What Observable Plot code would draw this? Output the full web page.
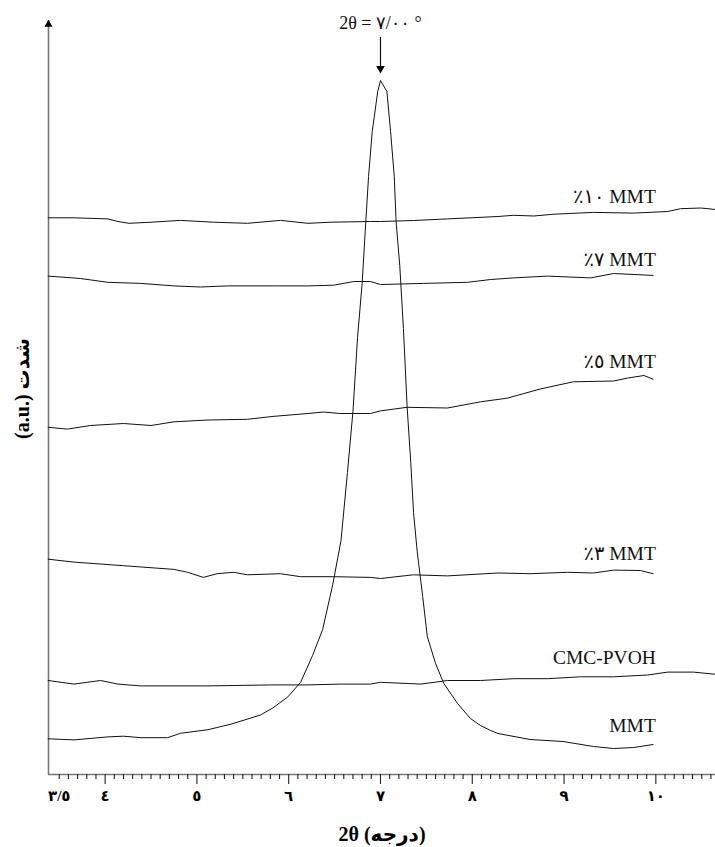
<!DOCTYPE html>
<html><head><meta charset="utf-8">
<script src="https://cdn.jsdelivr.net/npm/d3@7"></script>
<script src="https://cdn.jsdelivr.net/npm/@observablehq/plot@0.6"></script>
<style>body{margin:0;background:#fff}</style>
</head><body><div id="chart"></div>
<script>
// Series names (as shown on the chart)
const seriesNames = ["٪١٠ MMT", "٪٧ MMT", "٪٥ MMT", "٪٣ MMT", "CMC-PVOH", "MMT"];

// 2θ (degrees) and intensity (a.u., stacked offsets)
const mmt10X = [3.38,3.66,4.03,4.14,4.26,4.50,4.82,5.18,5.55,5.91,6.21,6.46,6.89,7.00,7.36,7.73,8.28,8.45,8.67,8.89,9.32,9.76,10.13,10.27,10.49,10.65];
const mmt10Y = [556.7,556.7,555.6,553,551.2,552.3,554.1,552.3,551.2,554.1,551.2,552.3,553,553,554,555.6,558,559.2,558.5,560.3,562.1,561.4,563,565.8,566.5,565];

const mmt7X = [3.38,3.73,4.03,4.39,4.75,5.04,5.33,5.83,6.21,6.49,6.71,6.89,7.00,7.47,7.95,8.20,8.45,8.82,9.29,9.54,9.97];
const mmt7Y = [498.4,496,492.2,491.1,488.6,487.5,488.6,488.6,488.6,489.3,493,493,490,491.1,492.2,495,496.6,498.4,496.6,501,499.1];

const mmt5X = [3.38,3.59,3.84,4.20,4.50,4.75,5.12,5.55,5.83,6.21,6.38,6.56,6.89,7.00,7.29,7.73,8.09,8.38,8.74,9.10,9.54,9.69,9.87,9.97];
const mmt5Y = [347.2,345.4,349,351,349,352.7,354.5,355.2,358.1,361,362.5,361,361,363.6,367.2,366.5,372.7,376.3,385.5,392.7,393.5,396.4,399,395.3];

const mmt3X = [3.38,3.66,4.20,4.75,4.90,5.07,5.22,5.40,5.55,5.91,6.13,6.49,6.89,7.00,7.36,7.73,8.28,8.63,9.04,9.32,9.54,9.83,9.97];
const mmt3Y = [215.3,212.4,208.8,205.1,202.2,197.1,200.8,202.2,199.7,200.8,197.8,197.8,197.1,196,199.7,198.6,201.5,200.8,202.2,201.5,204.4,204,200.8];

const cmcX = [3.38,3.66,3.95,4.14,4.39,5.12,5.83,6.21,6.56,6.89,7.00,7.44,7.73,8.09,8.45,8.82,9.18,9.54,9.91,10.13,10.41,10.65];
const cmcY = [94,90.4,94,90.4,88.6,88.6,89.6,89.6,90.4,90.4,92.2,90.4,94,94,95.8,95.8,97.7,97.7,99.5,102.4,102.4,100.2];

const mmtX = [3.38,3.66,4.03,4.20,4.39,4.68,4.82,5.12,5.37,5.69,5.83,5.99,6.13,6.26,6.37,6.48,6.57,6.64,6.70,6.75,6.80,6.84,6.87,6.91,6.97,7.00,7.07,7.11,7.15,7.17,7.21,7.25,7.29,7.33,7.36,7.40,7.46,7.51,7.60,7.69,7.84,7.98,8.09,8.20,8.28,8.63,8.99,9.32,9.54,9.76,9.97];
const mmtY = [35.7,34.6,37.6,38.3,36.8,36.8,41.2,44.8,50.3,59.4,66.7,77.6,92.2,119,145,190,234,302,363,437,491,553,598,643,683,694,683,643,598,553,509,446,368,312,262,223,178,138,111,91,71,56,49,44,41,35,33,28,26,27,30];

// Series label positions (x in degrees, y in a.u.)
const labelX = [10, 10, 10, 10, 10, 10];
const labelY = [572, 509, 407, 215, 111, 43];

// Axis ticks
const xDomain = [3.383, 10.65];
const yDomain = [0, 754];
const majorTicks = [4, 5, 6, 7, 8, 9, 10];
const labelTicks = [3.5, 4, 5, 6, 7, 8, 9, 10];
const tickLabels = ["٣/٥", "٤", "٥", "٦", "٧", "٨", "٩", "١٠"];
const minorTicks = d3.range(35, 107).map(i => i / 10).filter(v => !Number.isInteger(v));

// Peak annotation
const peakText = "2θ = ٧/٠٠ °";
const peakX = 7.0;
const peakTextY = 746;
const arrowTop = 737;
const arrowTipY = 704;

const xLabel = "2θ (درجه)";
const yLabel = "(a.u.) شدت";

const xs = [mmt10X, mmt7X, mmt5X, mmt3X, cmcX, mmtX];
const ys = [mmt10Y, mmt7Y, mmt5Y, mmt3Y, cmcY, mmtY];
const rows = [];
seriesNames.forEach((s, i) => xs[i].forEach((x, j) => rows.push({series: s, x, y: ys[i][j]})));
const labels = seriesNames.map((s, i) => ({s, x: labelX[i], y: labelY[i]}));
const fmt = d => tickLabels[labelTicks.indexOf(d)];

const serif = "'Liberation Serif','Times New Roman','DejaVu Sans',serif";

const chart = Plot.plot({
  width: 715,
  height: 847,
  marginTop: 20,
  marginBottom: 73,
  marginLeft: 48,
  marginRight: 0,
  style: {fontFamily: serif, background: "#fff", color: "#000"},
  x: {domain: xDomain},
  y: {domain: yDomain, axis: null},
  marks: [
    Plot.ruleY([yDomain[0]], {stroke: "#777", strokeWidth: 1.6}),
    Plot.ruleX([xDomain[0]], {y1: yDomain[0], y2: yDomain[1], stroke: "#777", strokeWidth: 1.6}),
    Plot.dot([xDomain[0]], {x: d => d, y: yDomain[1] - 4, symbol: "triangle", r: 3, fill: "#000", stroke: null}),
    Plot.axisX(minorTicks, {tickSize: 5, tickFormat: () => "", stroke: "#222", strokeWidth: 1.1, label: null}),
    Plot.axisX(majorTicks, {tickSize: 10, tickFormat: () => "", stroke: "#222", strokeWidth: 1.1, label: null}),
    Plot.axisX(labelTicks, {tickSize: 0, tickPadding: 16, tickFormat: fmt, fontSize: 15, fontWeight: "bold", fill: "#000", label: null}),
    Plot.line(rows, {x: "x", y: "y", z: "series", stroke: "#111", strokeWidth: 1, curve: "linear"}),
    Plot.text(labels, {x: "x", y: "y", text: "s", textAnchor: "end", lineAnchor: "bottom", fontSize: 19.5, fill: "#111"}),
    Plot.text([peakText], {x: peakX, y: peakTextY, text: d => d, lineAnchor: "bottom", fontSize: 18, fill: "#111"}),
    Plot.ruleX([peakX], {y1: arrowTop, y2: arrowTipY + 3, stroke: "#111", strokeWidth: 1.2}),
    Plot.dot([peakX], {x: d => d, y: arrowTipY + 2, symbol: "triangle", rotate: 180, r: 3.2, fill: "#000", stroke: null}),
    Plot.text([xLabel], {frameAnchor: "bottom", dy: 66, lineAnchor: "bottom", textAnchor: "middle", text: d => d, fontSize: 20, fontWeight: "bold", fill: "#000"}),
    Plot.text([yLabel], {frameAnchor: "left", y: 386, dx: -26, rotate: -90, textAnchor: "middle", text: d => d, fontSize: 20, fontWeight: "bold", fill: "#000"})
  ]
});
document.getElementById("chart").appendChild(chart);
</script>
</body></html>
